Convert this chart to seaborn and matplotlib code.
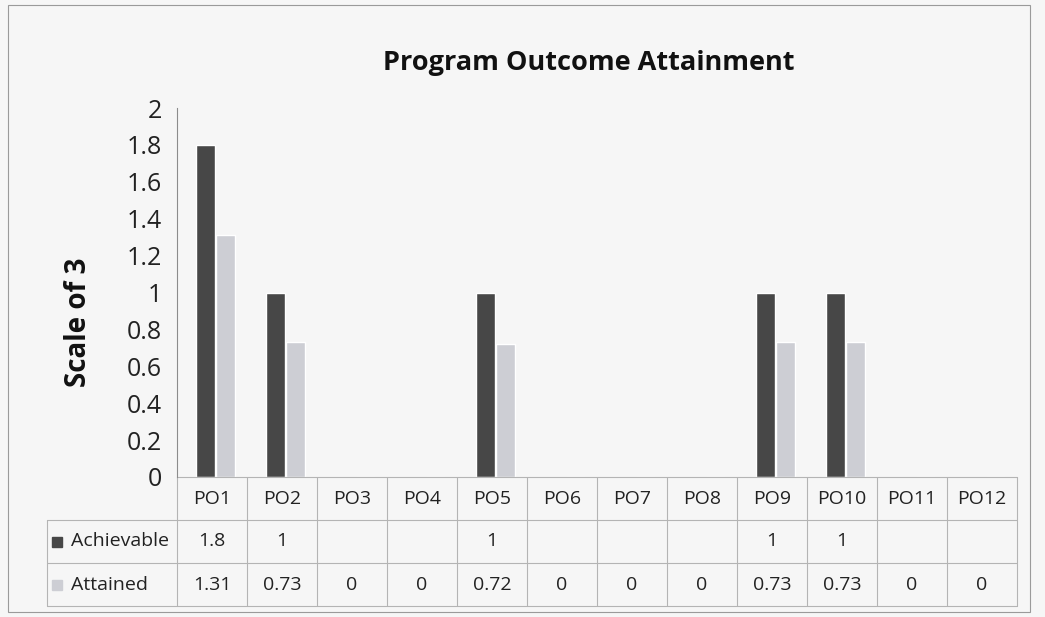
import numpy as np
import pandas as pd
import matplotlib
matplotlib.use("Agg")
import matplotlib.pyplot as plt
import seaborn as sns
from matplotlib.transforms import blended_transform_factory
from matplotlib.patches import Rectangle

# ---- data ----
CATEGORIES = ["PO1", "PO2", "PO3", "PO4", "PO5", "PO6",
              "PO7", "PO8", "PO9", "PO10", "PO11", "PO12"]
ACHIEVABLE = [1.8, 1, np.nan, np.nan, 1, np.nan, np.nan, np.nan, 1, 1, np.nan, np.nan]
ATTAINED = [1.31, 0.73, 0, 0, 0.72, 0, 0, 0, 0.73, 0.73, 0, 0]
SERIES = ["Achievable", "Attained"]
Y_TICKS = [0, 0.2, 0.4, 0.6, 0.8, 1, 1.2, 1.4, 1.6, 1.8, 2]

COLORS = {"Achievable": "#474747", "Attained": "#cdced4"}
BG = "#f6f6f6"
GRID = "#b4b4b4"

sns.set_theme(style="white")
plt.rcParams['font.family'] = ['Open Sans', 'DejaVu Sans']

df = pd.DataFrame({"PO": CATEGORIES, "Achievable": ACHIEVABLE, "Attained": ATTAINED})
long_df = df.melt(id_vars="PO", value_vars=SERIES, var_name="Series", value_name="Value")

W, H = 1045, 617
fig = plt.figure(figsize=(W / 100, H / 100), dpi=100, facecolor=BG)

# axes placed in pixel terms of the reference
ax_l, ax_r, ax_t, ax_b = 177, 1017, 108, 477
ax = fig.add_axes([ax_l / W, 1 - ax_b / H, (ax_r - ax_l) / W, (ax_b - ax_t) / H])
ax.set_facecolor(BG)

sns.barplot(data=long_df, x="PO", y="Value", hue="Series", order=CATEGORIES,
            hue_order=SERIES, palette=COLORS, width=0.58, errorbar=None,
            saturation=1, gap=0.04, ax=ax, legend=False)

ax.set_xlim(-0.55, len(CATEGORIES) - 0.55)
ax.set_ylim(0, 2)
ax.set_yticks(Y_TICKS)
ax.set_yticklabels([f"{v:g}" for v in Y_TICKS], fontsize=18, color="#222222")
ax.tick_params(axis="y", length=0, pad=11)
ax.set_xticks([])
ax.set_xlabel("")
ax.set_ylabel("Scale of 3", fontsize=20, fontweight="bold", color="#111111", va="center")
ax.yaxis.set_label_coords(-0.117, 0.42)
for s in ["top", "right", "bottom"]:
    ax.spines[s].set_visible(False)
ax.spines["left"].set_color("#8c8c8c")
ax.spines["left"].set_linewidth(0.8)

ax.set_title("Program Outcome Attainment", fontsize=19.5, fontweight="bold",
             color="#111111", pad=27, x=0.49)

# ---- data table under the plot ----
trans = blended_transform_factory(ax.transData, ax.transAxes)
rh = 43 / (ax_b - ax_t)
n = len(CATEGORIES)
x0 = -0.55
left = x0 - 130 / 70.0
line_kw = dict(color=GRID, lw=0.8, transform=trans, clip_on=False)

ax.plot([x0, x0 + n], [0, 0], **line_kw)
for k in (1, 2, 3):
    ax.plot([left if k > 1 else x0, x0 + n], [-k * rh, -k * rh], **line_kw)
ax.plot([left, x0], [-rh, -rh], **line_kw)
ax.plot([left, left], [-rh, -3 * rh], **line_kw)
for i in range(n + 1):
    ax.plot([x0 + i, x0 + i], [0, -3 * rh], **line_kw)

txt_kw = dict(transform=trans, ha="center", va="center", fontsize=14, color="#222222")
for i, name in enumerate(CATEGORIES):
    xc = x0 + i + 0.5
    ax.text(xc, -0.5 * rh, name, **txt_kw)
    if not np.isnan(ACHIEVABLE[i]):
        ax.text(xc, -1.5 * rh, f"{ACHIEVABLE[i]:g}", **txt_kw)
    if not np.isnan(ATTAINED[i]):
        ax.text(xc, -2.5 * rh, f"{ATTAINED[i]:g}", **txt_kw)

for r, name in enumerate(SERIES):
    y = -(1.5 + r) * rh
    ax.plot([left + 10 / 70], [y], marker="s", ms=6.5, color=COLORS[name],
            transform=trans, clip_on=False)
    ax.text(left + 24 / 70, y, name, transform=trans, ha="left", va="center",
            fontsize=14, color="#222222")

# outer chart border
fig.add_artist(Rectangle((8 / W, 1 - 612 / H), 1022 / W, 607 / H, transform=fig.transFigure,
                         fill=False, edgecolor="#9a9a9a", lw=0.8))

fig.savefig("out.png", dpi=100, facecolor=BG)
